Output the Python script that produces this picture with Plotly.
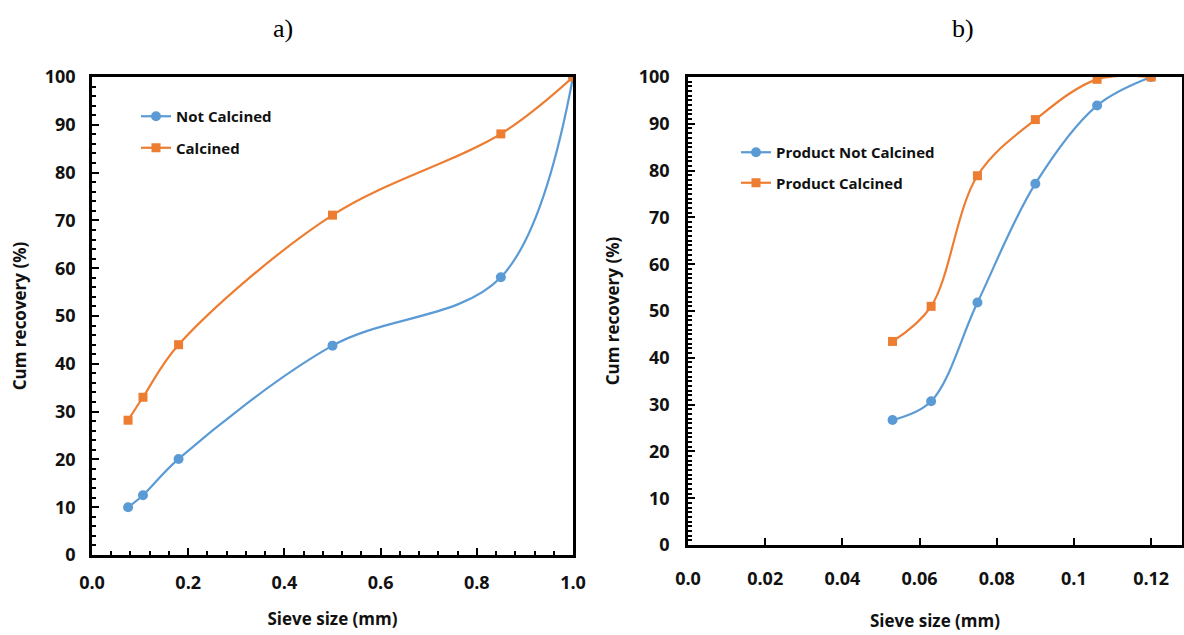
import plotly.graph_objects as go

# ---- data ----
a_x = [0.075, 0.106, 0.18, 0.5, 0.85, 1.0]
a_not_calcined = [10.0, 12.5, 20.1, 43.8, 58.1, 100.0]
a_calcined = [28.2, 33.0, 44.0, 71.1, 88.1, 100.0]

b_x = [0.053, 0.063, 0.075, 0.090, 0.106, 0.120]
b_not_calcined = [26.7, 30.7, 51.8, 77.2, 93.9, 100.0]
b_calcined = [43.5, 51.0, 78.9, 90.9, 99.5, 100.0]

b_xticks = [0.0, 0.02, 0.04, 0.06, 0.08, 0.1, 0.12]
b_xticktext = ["0.0", "0.02", "0.04", "0.06", "0.08", "0.1", "0.12"]

BLUE = "#5B9BD5"
ORANGE = "#ED7D31"
FONT = "Open Sans"
W, H = 1184, 635

fig = go.Figure()

def px_x(p):
    return p / W

def px_y(p):
    return 1 - p / H

common_line = dict(width=2.2, shape="spline", smoothing=1.0)

fig.add_trace(go.Scatter(x=a_x, y=a_not_calcined, name="Not Calcined", mode="lines+markers",
                         line=dict(color=BLUE, **common_line),
                         marker=dict(symbol="circle", size=10, color=BLUE),
                         xaxis="x", yaxis="y", legend="legend", legendgroup="a1"))
fig.add_trace(go.Scatter(x=a_x, y=a_calcined, name="Calcined", mode="lines+markers",
                         line=dict(color=ORANGE, **common_line),
                         marker=dict(symbol="square", size=9, color=ORANGE),
                         xaxis="x", yaxis="y", legend="legend", legendgroup="a2"))
fig.add_trace(go.Scatter(x=b_x, y=b_not_calcined, name="Product Not Calcined", mode="lines+markers",
                         line=dict(color=BLUE, **common_line),
                         marker=dict(symbol="circle", size=10, color=BLUE),
                         xaxis="x2", yaxis="y2", legend="legend2", legendgroup="b1"))
fig.add_trace(go.Scatter(x=b_x, y=b_calcined, name="Product Calcined", mode="lines+markers",
                         line=dict(color=ORANGE, **common_line),
                         marker=dict(symbol="square", size=9, color=ORANGE),
                         xaxis="x2", yaxis="y2", legend="legend2", legendgroup="b2"))

tickfont = dict(family=FONT, size=18, color="#111111", weight="bold")
titlefont = dict(family=FONT, size=17, color="#111111", weight="bold")

axis_common = dict(showline=True, linecolor="black", linewidth=2.5, mirror=True,
                   showgrid=False, zeroline=False, ticks="inside", tickcolor="black",
                   tickwidth=2, ticklen=7, tickfont=tickfont, automargin=False)

fig.update_layout(
    width=W, height=H,
    margin=dict(l=0, r=0, t=0, b=0),
    paper_bgcolor="white", plot_bgcolor="white",
    xaxis=dict(domain=[px_x(92), px_x(573)], range=[0, 1.0], tickvals=[0, 0.2, 0.4, 0.6, 0.8, 1.0],
               ticktext=["0.0", "0.2", "0.4", "0.6", "0.8", "1.0"], ticklabelstandoff=10,
               minor=dict(dtick=0.04, ticks="inside", ticklen=4, tickwidth=2, tickcolor="black"),
               title=dict(text="Sieve size (mm)", font=titlefont, standoff=20),
               anchor="y", **axis_common),
    yaxis=dict(domain=[px_y(555), px_y(77)], range=[0, 100], dtick=10, ticklabelstandoff=10,
               minor=dict(dtick=2, ticks="inside", ticklen=4, tickwidth=2, tickcolor="black"),
               title=dict(text="Cum recovery (%)", font=titlefont, standoff=14),
               anchor="x", **axis_common),
    xaxis2=dict(domain=[px_x(688), px_x(1182)], range=[0, 0.128], tickvals=b_xticks, ticktext=b_xticktext,
                ticklabelstandoff=16,
                title=dict(text="Sieve size (mm)", font=titlefont, standoff=26),
                anchor="y2", **axis_common),
    yaxis2=dict(domain=[px_y(545), px_y(77)], range=[0, 100], dtick=10, ticklabelstandoff=12,
                minor=dict(dtick=1, ticks="inside", ticklen=4, tickwidth=2, tickcolor="black"),
                title=dict(text="Cum recovery (%)", font=titlefont, standoff=15),
                anchor="x2", **axis_common),
    legend=dict(x=px_x(136), y=px_y(100), xanchor="left", yanchor="top",
                font=dict(family=FONT, size=15, color="#111111", weight="bold"),
                bgcolor="rgba(0,0,0,0)", tracegroupgap=9, traceorder="grouped", itemwidth=30),
    legend2=dict(x=px_x(736), y=px_y(136), xanchor="left", yanchor="top",
                 font=dict(family=FONT, size=15, color="#111111", weight="bold"),
                 bgcolor="rgba(0,0,0,0)", tracegroupgap=8, traceorder="grouped", itemwidth=30),
    annotations=[
        dict(text="a)", x=px_x(283), y=px_y(28), xref="paper", yref="paper", showarrow=False,
             xanchor="center", yanchor="middle",
             font=dict(family="Liberation Serif", size=26, color="black")),
        dict(text="b)", x=px_x(963), y=px_y(28), xref="paper", yref="paper", showarrow=False,
             xanchor="center", yanchor="middle",
             font=dict(family="Liberation Serif", size=26, color="black")),
    ],
)

fig.write_html("out.html")
